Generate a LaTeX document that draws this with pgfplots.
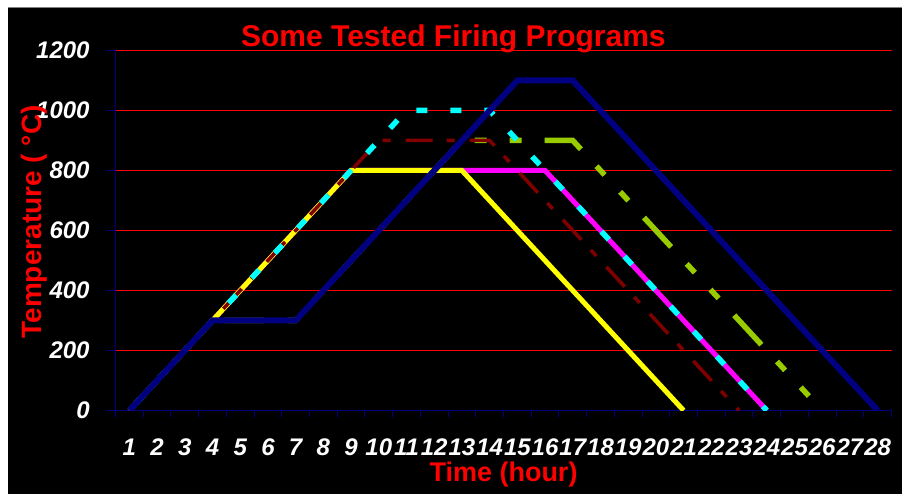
\documentclass[border=0pt]{standalone}
\usepackage{fontspec}
\setmainfont{Liberation Sans}
\usepackage{pgfplots}
\pgfplotsset{compat=1.18}
\definecolor{xlnavy}{HTML}{000080}
\definecolor{xlgreen}{HTML}{99CC00}
\definecolor{xlmaroon}{HTML}{800000}
\definecolor{xlyellow}{HTML}{FFFF00}
\definecolor{xlmagenta}{HTML}{FF00FF}
\definecolor{xlcyan}{HTML}{00FFFF}
\definecolor{xlred}{HTML}{FF0000}
\begin{document}
\begin{tikzpicture}[x=1pt,y=1pt]
\useasboundingbox (0,0) rectangle (902,494);
\fill[white] (0,0) rectangle (902,494);
\fill[black] (8,0) rectangle (902,486);
\draw[gray, line width=1pt] (8,486.5) -- (902,486.5);
\begin{axis}[
  at={(115.5pt,83.5pt)}, anchor=south west,
  scale only axis, width=776pt, height=360pt,
  xmin=0.5, xmax=28.5, ymin=0, ymax=1200,
  axis x line*=bottom, axis y line*=left,
  axis line style={-, draw=xlnavy, line width=1pt},
  xtick={1,...,28},
  minor xtick={0.5,1.5,...,28.5},
  ytick={0,200,...,1200},
  tick align=outside,
  major tick length=8pt, minor tick length=7pt,
  major x tick style={draw=none},
  tick style={color=xlnavy, line width=1pt},
  ymajorgrids,
  every axis grid/.style={draw=xlred, line width=1pt},
  y grid style={draw=xlred, line width=1pt},
  major grid style={draw=xlred, line width=1pt},
  /pgf/number format/assume math mode=true,
  /pgf/number format/1000 sep={},
  ticklabel style={font=\fontsize{24}{24}\selectfont\bfseries\itshape, text=white},
  xticklabel style={anchor=north, inner sep=0pt, yshift=-20.5pt},
  yticklabel style={anchor=east, inner sep=0pt, xshift=-17.7pt},
]
% magenta
\addplot[draw=xlmagenta, line width=5pt] coordinates {
(1,0)(2,100)(3,200)(4,300)(5,400)(6,500)(7,600)(8,700)(9,800)(10,800)(11,800)(12,800)(13,800)(14,800)(15,800)(16,800)(17,700)(18,600)(19,500)(20,400)(21,300)(22,200)(23,100)(24,0)};
% yellow
\addplot[draw=xlyellow, line width=5pt] coordinates {
(1,0)(2,100)(3,200)(4,300)(5,400)(6,500)(7,600)(8,700)(9,800)(10,800)(11,800)(12,800)(13,800)(14,700)(15,600)(16,500)(17,400)(18,300)(19,200)(20,100)(21,0)};
% green
\addplot[draw=xlgreen, line width=5.5pt, dash pattern=on 40pt off 23pt on 12pt off 23pt on 12pt off 23pt, dash phase=131.5pt] coordinates {
(1,0)(2,100)(3,200)(4,300)(5,300)(6,300)(7,300)(8,400)(9,500)(10,600)(11,700)(12,800)(13,900)(14,900)(15,900)(16,900)(17,900)(18,800)(19,700)(20,600)(21,500)(22,400)(23,300)(24,200)(25,100)(26,0)};
% maroon
\addplot[draw=xlmaroon, line width=3.5pt, dash pattern=on 27pt off 14pt on 8pt off 15pt, dash phase=53.5pt] coordinates {
(1,0)(2,100)(3,200)(4,300)(5,400)(6,500)(7,600)(8,700)(9,800)(10,900)(11,900)(12,900)(13,900)(14,900)(15,800)(16,700)(17,600)(18,500)(19,400)(20,300)(21,200)(22,100)(23,0)};
% cyan
\addplot[draw=xlcyan, line width=5.5pt, dash pattern=on 11pt off 23pt, dash phase=23.7pt] coordinates {
(1,0)(2,100)(3,200)(4,300)(5,400)(6,500)(7,600)(8,700)(9,800)(10,900)(11,1000)(12,1000)(13,1000)(14,1000)(15,900)(16,800)(17,700)(18,600)(19,500)(20,400)(21,300)(22,200)(23,100)(24,0)};
% navy
\addplot[draw=xlnavy, line width=6pt] coordinates {
(1,0)(2,100)(3,200)(4,300)(5,300)(6,300)(7,300)(8,400)(9,500)(10,600)(11,700)(12,800)(13,900)(14,1000)(15,1100)(16,1100)(17,1100)(18,1000)(19,900)(20,800)(21,700)(22,600)(23,500)(24,400)(25,300)(26,200)(27,100)(28,0)};
\end{axis}
\node[anchor=base, text=red, font=\fontsize{30}{30}\selectfont\bfseries] at (453.4,447.3) {Some Tested Firing Programs};
\node[rotate=90, text=red, font=\fontsize{28}{28}\selectfont\bfseries] at (34,272) {Temperature ( °C)};
\node[anchor=base, text=red, font=\fontsize{27}{27}\selectfont\bfseries] at (503.5,12) {Time (hour)};
\end{tikzpicture}
\end{document}
